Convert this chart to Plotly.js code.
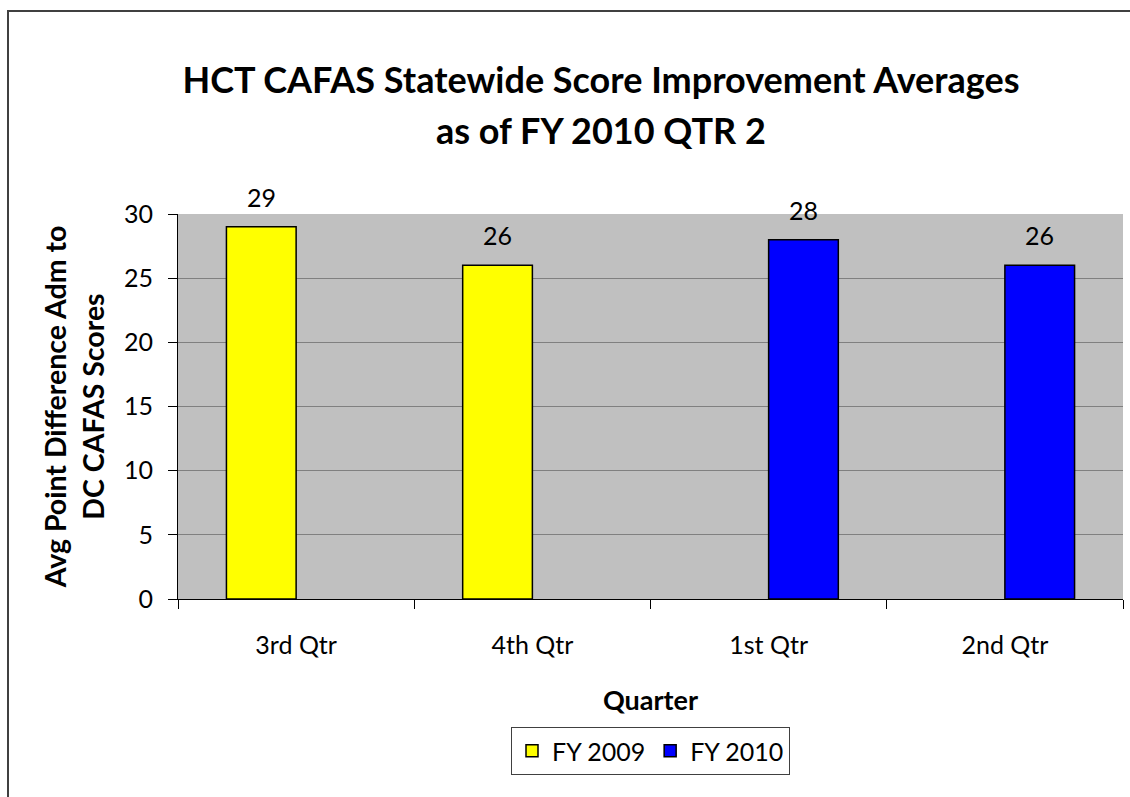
<!DOCTYPE html>
<html>
<head>
<meta charset="utf-8">
<script src="https://cdn.plot.ly/plotly-3.0.1.min.js"></script>
<style>
html,body{margin:0;padding:0;background:#fff;overflow:hidden;}
#wrap{position:relative;width:1130px;height:797px;overflow:hidden;}
#chart{width:1130px;height:797px;}
#frame{position:absolute;left:7px;top:10px;width:3000px;height:3000px;border-left:2px solid #404040;border-top:2px solid #404040;pointer-events:none;}
</style>
</head>
<body>
<div id="wrap">
<div id="chart"></div>
<div id="frame"></div>
</div>
<script>
const categories = ["3rd Qtr", "4th Qtr", "1st Qtr", "2nd Qtr"];
const seriesNames = ["FY 2009", "FY 2010"];
const fy2009 = [29, 26, null, null];
const fy2010 = [null, null, 28, 26];
const seriesColors = ["#FFFF00", "#0000FF"];
const titleLines = ["HCT CAFAS Statewide Score Improvement Averages", "as of FY 2010 QTR 2"];
const yTitle = "Avg Point Difference Adm to<br>DC CAFAS Scores";
const xTitle = "Quarter";
const yTicks = [0, 5, 10, 15, 20, 25, 30];

const FONT = "Lato, 'Open Sans', sans-serif";
const W = 1130, H = 797;
const M = {l: 178, r: 7, t: 214, b: 198};
const plotW = W - M.l - M.r, plotH = H - M.t - M.b;
const px2x = p => (p - M.l) / plotW;
const py2y = p => (H - M.b - p) / plotH;

const bargap = 0.41;
const catW = plotW / categories.length;
const barW = catW * (1 - bargap) / 2;

const allSeries = [fy2009, fy2010];
const traces = allSeries.map((vals, i) => ({
  type: "bar",
  name: seriesNames[i],
  x: categories,
  y: vals,
  marker: {color: seriesColors[i], line: {color: "#000000", width: 1.5}},
  hoverinfo: "x+y+name"
}));

const annotations = [];
allSeries.forEach((vals, i) => {
  vals.forEach((v, j) => {
    if (v === null) return;
    annotations.push({
      xref: "x", yref: "y", x: categories[j], y: v,
      xshift: (i === 0 ? -1 : 1) * barW / 2,
      yshift: 13, yanchor: "bottom", showarrow: false,
      text: String(v), font: {family: FONT, size: 25, color: "#000"}
    });
  });
});
annotations.push({
  xref: "paper", yref: "paper", x: px2x(601), y: py2y(154),
  yanchor: "bottom", xanchor: "center", showarrow: false,
  text: "<b>" + titleLines[1] + "</b>",
  font: {family: FONT, size: 36, color: "#000"}
});

const layout = {
  width: W, height: H,
  margin: M,
  paper_bgcolor: "#FFFFFF",
  plot_bgcolor: "#C0C0C0",
  title: {
    text: "<b>" + titleLines[0] + "</b>",
    font: {family: FONT, size: 36, color: "#000"},
    xref: "container", x: 601 / W, xanchor: "center",
    yref: "container", y: 1 - 93 / H, yanchor: "bottom"
  },
  font: {family: FONT, color: "#000"},
  bargap: bargap,
  bargroupgap: 0,
  barmode: "group",
  showlegend: true,
  legend: {
    orientation: "h",
    x: 0.5, xanchor: "center",
    y: py2y(727), yanchor: "top",
    bordercolor: "#404040", borderwidth: 1,
    font: {family: FONT, size: 25, color: "#000"},
    bgcolor: "#FFFFFF"
  },
  xaxis: {
    type: "category",
    tickson: "boundaries",
    ticks: "outside", ticklen: 9, tickcolor: "#000", tickwidth: 1,
    showgrid: false,
    showline: true, linecolor: "#000", linewidth: 1,
    tickfont: {family: FONT, size: 25, color: "#000"},
    ticklabelstandoff: 24,
    title: {text: "<b>" + xTitle + "</b>", font: {family: FONT, size: 27, color: "#000"}, standoff: 33},
    automargin: false
  },
  yaxis: {
    range: [0, 30],
    tickvals: yTicks,
    ticks: "outside", ticklen: 9, tickcolor: "#000", tickwidth: 1,
    showgrid: true, gridcolor: "#808080", gridwidth: 1,
    zeroline: false,
    showline: true, linecolor: "#000", linewidth: 1,
    tickfont: {family: FONT, size: 25, color: "#000"},
    ticklabelstandoff: 10,
    title: {text: "<b>" + yTitle + "</b>", font: {family: FONT, size: 28.5, color: "#000"}, standoff: 11},
    automargin: false
  },
  annotations: annotations
};

Plotly.newPlot("chart", traces, layout, {displayModeBar: false});
</script>
</body>
</html>
